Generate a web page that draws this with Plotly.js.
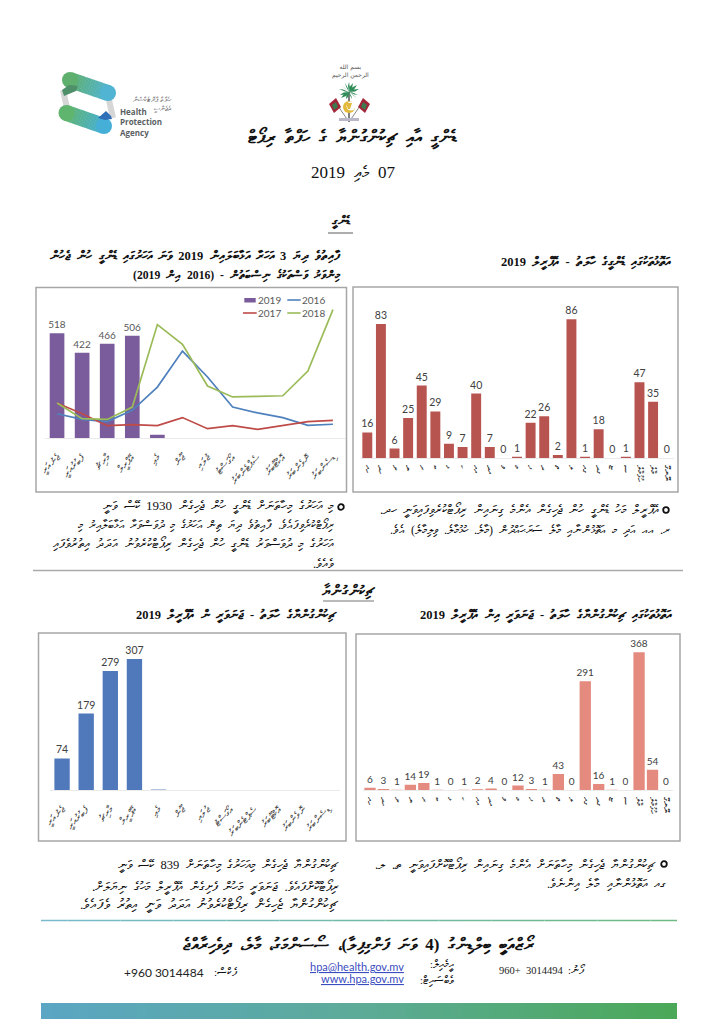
<!DOCTYPE html><html><head><meta charset="utf-8"><script src="https://cdn.plot.ly/plotly-3.0.1.min.js"></script></head><body style="margin:0;background:#fff"><div id="c"></div><script>
// ---------- data ----------
var months=["ޖެނުއަރީ","ފެބުރުއަރީ","މާރިޗު","އޭޕްރީލް","މެއި","ޖޫން","ޖުލައި","އޯގަސްޓު","ސެޕްޓެންބަރު","އޮކްޓޫބަރު","ނޮވެންބަރު","ޑިސެންބަރު"];
var dengue2019=[518,422,466,506,16];
var dengue2019Labels=["518","422","466","506",""];
var dengue2016=[120,92,81,137,252,430,302,153,124,101,63,68];
var dengue2017=[173,120,61,66,61,101,46,61,43,61,81,87];
var dengue2018=[173,96,92,153,561,463,257,203,206,209,331,635];
var atollsB=["ހއ","ހދ","ށ","ނ","ރ","ބ","ޅ","ކ","އއ","އދ","ވ","މ","ފ","ދ","ތ","ލ","ގއ","ގދ","ޏ","ސ","ހުޅުމާލެ","މާލެ","ނޭނގޭ"];
var dengueAtoll=[16,83,6,25,45,29,9,7,40,7,0,1,22,26,2,86,1,18,0,1,47,35,0];
var atollsC=["ހއ","ހދ","ށ","ނ","ރ","ބ","ޅ","ކ","އއ","އދ","ވ","މ","ފ","ދ","ތ","ލ","ގއ","ގދ","ޏ","ސ","މާލެ","ހުޅުމާލެ","ނޭނގޭ"];
var chikAtoll=[6,3,1,14,19,1,0,1,2,4,0,12,3,1,43,0,291,16,1,0,368,54,0];
var chikMonth=[74,179,279,307,1];
var chikMonthLabels=["74","179","279","307",""];
// ---------- text ----------
var tMain="ޑެންގީ އާއި ޗިކުންގުންޔާ ގެ ހަފްތާ ރިޕޯޓް";
var tDate="07 މެއި 2019";
var tDengue="ޑެންގީ", tChik="ޗިކުންގުންޔާ";
var tA1="ފާއިތުވެ ދިޔަ 3 އަހަރާ އަޅާބަލައިން 2019 ވަނަ އަހަރުގައި ޑެންގީ ހުން ޖެހުން";
var tA2="މިންވަރު ވަސްތަކުގެ ނިސްބަތުން - (2016 އިން 2019)";
var tB="އަތޮޅުތަކުގައި ޑެންގީގެ ހާލަތު - އޭޕްރީލް 2019";
var tC="އަތޮޅުތަކުގައި ޗިކުންގުންޔާގެ ހާލަތު - ޖަނަވަރީ އިން އޭޕްރީލް 2019";
var tD="ޗިކުންގުންޔާގެ ހާލަތު - ޖަނަވަރީ ން އޭޕްރީލް 2019";
var pTL=["މި އަހަރުގެ މިހާތަނަށް ޑެންގީ ހުން ޖެހިގެން 1930 ކޭސް ވަނީ","ރިޕޯޓްކުރެވިފައެވެ. ފާއިތުވެ ދިޔަ ތިން އަހަރުގެ މި ދުވަސްވަރާ އަޅާބަލާއިރު މި","އަހަރުގެ މި ދުވަސްވަރު ޑެންގީ ހުން ޖެހިގެން ރިޕޯޓްކުރެވުނު އަދަދު އިތުރުވެފައި","ވެއެވެ."];
var pTR=["އޭޕްރީލް މަހު ޑެންގީ ހުން ޖެހިގެން އެންމެ ގިނައިން ރިޕޯޓްކުރެވިފައިވަނީ ހދ،","ރ، އއ އަދި މ އަތޮޅުންނާއި މާލެ ސަރަޙައްދުން (މާލެ، ހުޅުމާލެ، ވިލިމާލެ) އެވެ."];
var pBL=["ޗިކުންގުންޔާ ޖެހިގެން މިއަހަރުގެ މިހާތަނަށް 839 ކޭސް ވަނީ","ރިޕޯޓްކޮށްފައެވެ. ޖަނަވަރީ މަހުން ފެށިގެން އޭޕްރީލް މަހުގެ ނިޔަލަށް،","ޗިކުންގުންޔާ ޖެހިގެން ރިޕޯޓްކުރެވުނު އަދަދު ވަނީ އިތުރު ވެފައެވެ."];
var pBR=["ޗިކުންގުންޔާ ޖެހިގެން މިހާތަނަށް އެންމެ ގިނައިން ރިޕޯޓްކޮށްފައިވަނީ ތ، ލ،","ގއ އަތޮޅުންނާއި މާލެ އިންނެވެ."];
var tAddr="ރޯޒްއަބީ ބިލްޑިންގު (4 ވަނަ ފަންގިފިލާ)، ސޯސަންމަގު، މާލެ، ދިވެހިރާއްޖެ";
// ---------- colours ----------
var cPurple="#7A5C9C",cBlue="#4F81BD",cRed="#BE4B48",cGreen="#9BBB59",cBarB="#B85450",cBarC="#E58A7E",cBarD="#4F79BA",cBox="#A6A6A6",cLbl="#595959",cLbl2="#404040";
var W=714,H=1024;
function fx(x){return x/W} function fy(y){return 1-y/H}
function ds(s){return s.replace(/ /g,'\u00A0\u00A0')}
function rtl(s){return "\u202B"+ds(s)+"\u202C"}
var ann=[],shapes=[];
function note(x,y,text,o){o=o||{};ann.push({xref:'paper',yref:'paper',x:fx(x),y:fy(y),text:text,showarrow:false,xanchor:o.a||'center',yanchor:'middle',borderpad:0,
  font:{family:o.f||'Liberation Serif',size:o.s||11,color:o.c||'#111'},align:o.al||'center'});}
function rect(x0,y0,x1,y1,line,fill,lw){shapes.push({type:'rect',xref:'paper',yref:'paper',x0:fx(x0),x1:fx(x1),y0:fy(y0),y1:fy(y1),line:{color:line||'rgba(0,0,0,0)',width:lw===undefined?1.5:lw},fillcolor:fill||'rgba(0,0,0,0)'});}
function seg(x0,y0,x1,y1,c,w){shapes.push({type:'line',xref:'paper',yref:'paper',x0:fx(x0),x1:fx(x1),y0:fy(y0),y1:fy(y1),line:{color:c,width:w||1}});}
function circ(cx,cy,r,fill,line,lw){rect(cx-r,cy-r,cx+r,cy+r,line,fill,lw||0);shapes[shapes.length-1].type='circle';}
function poly(pts,fill){var d=pts.map(function(p,i){return (i?'L':'M')+fx(p[0])+','+fy(p[1])}).join(' ')+' Z';shapes.push({type:'path',xref:'paper',yref:'paper',path:d,fillcolor:fill,line:{width:0}});}
function lerp(a,b,t){return a.map(function(v,i){return Math.round(v+(b[i]-v)*t)})}
function rgb(c){return 'rgb('+c.join(',')+')'}
function gradSeg(x0,y0,x1,y1,c0,c1,w,n){for(var i=0;i<n;i++){var a=i/n,b=(i+1)/n;seg(x0+(x1-x0)*a,y0+(y1-y0)*a,x0+(x1-x0)*b,y0+(y1-y0)*b,rgb(lerp(c0,c1,(i+.5)/n)),w);}}
function band(x0,y0,x1,y1,c0,c1,w,n){var dx=x1-x0,dy=y1-y0,l=Math.sqrt(dx*dx+dy*dy),nx=-dy/l*w/2,ny=dx/l*w/2;
 for(var i=0;i<n;i++){var a=i/n,b=(i+1.15)/n;if(b>1)b=1;var ax=x0+dx*a,ay=y0+dy*a,bx=x0+dx*b,by=y0+dy*b;
  poly([[ax+nx,ay+ny],[bx+nx,by+ny],[bx-nx,by-ny],[ax-nx,ay-ny]],rgb(lerp(c0,c1,(i+.5)/n)));}
 circ(x0,y0,w/2,rgb(c0));circ(x1,y1,w/2,rgb(c1));}

// chart boxes
rect(36,287.5,346.5,492,cBox);rect(353,287,678,492,cBox);rect(356,634,680,841,cBox);rect(38.5,633,346,841,cBox);
// headings
note(352.5,138,'<b>'+rtl(tMain)+'</b>',{s:18});
note(353,172,rtl(tDate),{s:17});
note(340.5,222,'<b>'+tDengue+'</b>',{s:12.5});seg(328,233,353,233,'#777',1.2);
note(342,257,'<b>'+rtl(tA1)+'</b>',{a:'right',s:12.5});
note(342,275,'<b>'+rtl(tA2)+'</b>',{a:'right',s:11.7});
note(672,263,'<b>'+rtl(tB)+'</b>',{a:'right',s:12.5});
note(673,616,'<b>'+rtl(tC)+'</b>',{a:'right',s:12.5});
note(338,616,'<b>'+rtl(tD)+'</b>',{a:'right',s:12.5});
note(348,591,'<b>'+tChik+'</b>',{s:14.5});seg(323,601,374,601,'#777',1.2);
// paragraphs
var szTL=[13,11.8,12.5,12.5],szTR=[12.5,12],szBL=[12.5,13.2,13.5],szBR=[12.5,12.5];
[506,525,544,564].forEach(function(y,i){note(335,y,rtl(pTL[i]),{a:'right',s:szTL[i]});});
[510,530].forEach(function(y,i){note(i?671:660,y,rtl(pTR[i]),{a:'right',s:szTR[i]});});
[865,887,904].forEach(function(y,i){note(340,y,rtl(pBL[i]),{a:'right',s:szBL[i]});});
[865,884].forEach(function(y,i){note(i?667:657,y,rtl(pBR[i]),{a:'right',s:szBR[i]});});
circ(341,507,2.8,'#fff','#111',1.8);circ(666,510,2.8,'#fff','#111',1.8);circ(664,864,2.8,'#fff','#111',1.8);
seg(33,570.5,683,570.5,'#AAAAAA',1.5);
// footer
gradSeg(41,920.5,677,920.5,[120,185,205],[110,185,130],1.5,24);
note(359,945,'<b>'+rtl(tAddr)+'</b>',{s:17});
note(587,970,rtl("ފޯނު:"),{a:'right',s:10.5});
note(564,970,"960+&nbsp; 3014494",{a:'right',s:10.5,c:'#222'});
note(239,972,rtl("ފެކްސް:"),{a:'right',s:11});
note(204.5,972,"+960 3014484",{a:'right',f:'Lato',s:12,c:'#222'});
note(405,966.5,"<u>hpa@health.gov.mv</u>",{a:'right',f:'Lato',s:11,c:'#3B4CC0'});
note(405,978,"<u>www.hpa.gov.mv</u>",{a:'right',f:'Lato',s:11,c:'#3B4CC0'});
note(455,965,rtl("އީމެއިލް:"),{a:'right',s:10.5});
note(455,981,rtl("ވެބްސައިޓް:"),{a:'right',s:10.5});

// legend of chart A
rect(244.3,298,255.7,302.5,null,cPurple,0);note(257,300,'2019',{a:'left',f:'Lato',s:10,c:cLbl});
seg(287.3,300,300.7,300,cBlue,1.6);note(301,300,'2016',{a:'left',f:'Lato',s:10,c:cLbl});
seg(243,313,256.7,313,cRed,1.6);note(257,313,'2017',{a:'left',f:'Lato',s:10,c:cLbl});
seg(287.3,313,300.7,313,cGreen,1.6);note(301,313,'2018',{a:'left',f:'Lato',s:10,c:cLbl});

// agency logo
seg(63,90,67,108,'#D6D6D6',6);seg(109,100,113,118,'#D6D6D6',6);
band(70,80,108,93,[95,175,110],[80,180,210],16,16);
band(66.5,113,104,126,[95,180,110],[70,175,215],16,16);
poly([[62,90],[69,85],[78,86],[76,91],[64,96]],'#4F8F6A');
poly([[98,118],[106,111],[111,116],[112,119],[105,120]],'#2F6FB8');
note(118.5,122,'<b>Health<br>Protection<br>Agency</b>',{a:'left',al:'left',f:'Open Sans',s:8,c:'#5A5F63'});
note(173,100,"ހެލްތް ޕްރޮޓެކްޝަން",{a:'right',s:7,c:'#555'});
note(173,109,"އެޖެންސީ",{a:'right',s:7,c:'#555'});

// state emblem
note(350,71,"بسم الله<br>الرحمن الرحيم",{s:6,f:'DejaVu Sans',c:'#555'});
seg(349,92,349,122,'#555',1.5);
[[-10,-3],[-9,3],[-8,6],[-8,-7],[-4,-9],[0,-10],[4,-9],[8,-7],[10,-3],[9,3],[8,6],[-3,7],[3,7]].forEach(function(v){
  poly([[349,92],[349+v[0]*0.5-1,92+v[1]*0.5-1],[349+v[0],92+v[1]],[349+v[0]*0.5+1,92+v[1]*0.5+1]],'#2E8B57');});
circ(349,107,6,'#E2B93B');circ(351,106,4.5,'#fff');
poly([[346,103],[352,103],[350,109],[348,109]],'#E2B93B');
seg(336,103,349,122,'#888',1);seg(362,103,349,122,'#888',1);
poly([[329,104],[336,98],[341,107],[334,113]],'#A32638');poly([[370,104],[363,98],[358,107],[365,113]],'#A32638');
poly([[332,105],[336,102],[338,107],[334,110]],'#3D7A4F');poly([[367,105],[363,102],[361,107],[365,110]],'#3D7A4F');
rect(339,118,359,121,null,'#B8B8C8',0);

function dom(a,b,size){return [a/size,b/size]}
function domY(bottom,top){return [1-bottom/H,1-top/H]}
function xax(x0,x1,n,angle,size,anchor,standoff){return {domain:dom(x0,x1,W),anchor:anchor,range:[-0.5,n-0.5],showgrid:false,zeroline:false,showline:true,linecolor:'#EAEAEA',linewidth:1,
  ticks:'',tickangle:angle,tickfont:{family:'Liberation Serif',size:size,color:'#333'},tickmode:'array',ticklabelstandoff:standoff,automargin:false};}
function yax(bot,top,maxv,anchor){return {domain:domY(bot,top),anchor:anchor,range:[0,maxv],visible:false,fixedrange:true};}

var idx=function(a){return a.map(function(_,i){return i})};
var xm=idx(months),xb=idx(atollsB),xc=idx(atollsC);
function barOpts(tf){return {type:'bar',textposition:'outside',cliponaxis:false,constraintext:'none',textfont:tf};}
var data=[
 Object.assign(barOpts({family:'Lato',size:10,color:cLbl}),{x:xm.slice(0,dengue2019.length),y:dengue2019,xaxis:'x',yaxis:'y',marker:{color:cPurple},width:0.585,text:dengue2019Labels,name:'2019'}),
 {type:'scatter',mode:'lines',x:xm,y:dengue2016,xaxis:'x',yaxis:'y',line:{color:cBlue,width:1.7},name:'2016'},
 {type:'scatter',mode:'lines',x:xm,y:dengue2017,xaxis:'x',yaxis:'y',line:{color:cRed,width:1.7},name:'2017'},
 {type:'scatter',mode:'lines',x:xm,y:dengue2018,xaxis:'x',yaxis:'y',line:{color:cGreen,width:1.7},name:'2018'},
 Object.assign(barOpts({family:'Lato',size:10.5,color:cLbl2}),{x:xb,y:dengueAtoll,xaxis:'x2',yaxis:'y2',marker:{color:cBarB},width:0.73,text:dengueAtoll.map(String)}),
 Object.assign(barOpts({family:'Lato',size:10,color:cLbl2}),{x:xc,y:chikAtoll,xaxis:'x3',yaxis:'y3',marker:{color:cBarC},width:0.84,text:chikAtoll.map(String)}),
 Object.assign(barOpts({family:'Lato',size:10.5,color:cLbl2}),{x:xm.slice(0,chikMonth.length),y:chikMonth,xaxis:'x4',yaxis:'y4',marker:{color:cBarD},width:0.636,text:chikMonthLabels}),
 {type:'heatmap',z:[[0,1]],x:[0,1],y:[0],xaxis:'x5',yaxis:'y5',showscale:false,zsmooth:'best',colorscale:[[0,'#5AA6C4'],[0.5,'#5CAB98'],[1,'#4BA857']],hoverinfo:'skip'}
];
var layout={width:W,height:H,margin:{l:0,r:0,t:0,b:0},paper_bgcolor:'#fff',plot_bgcolor:'rgba(0,0,0,0)',showlegend:false,hovermode:false,annotations:ann,shapes:shapes,
 font:{family:'Liberation Serif'},
 xaxis:Object.assign(xax(44.5,345.5,12,-45,10,'y',9),{tickvals:xm,ticktext:months}),yaxis:yax(438,292,722.4,'x'),
 xaxis2:Object.assign(xax(360.5,673.5,23,90,8.5,'y2',4),{tickvals:xb,ticktext:atollsB}),yaxis2:yax(458.3,300,97.9,'x2'),
 xaxis3:Object.assign(xax(363.3,672.7,23,90,8.5,'y3',4),{tickvals:xc,ticktext:atollsC}),yaxis3:yax(790,640,401,'x3'),
 xaxis4:Object.assign(xax(50,339.5,12,-45,10,'y4',9),{tickvals:xm,ticktext:months}),yaxis4:yax(790,640,351.5,'x4'),
 xaxis5:{domain:dom(41,677,W),anchor:'y5',visible:false,range:[0,1]},yaxis5:{domain:domY(1019,1003),anchor:'x5',visible:false}
};
Plotly.newPlot('c',data,layout,{displayModeBar:false,staticPlot:true});
</script></body></html>
